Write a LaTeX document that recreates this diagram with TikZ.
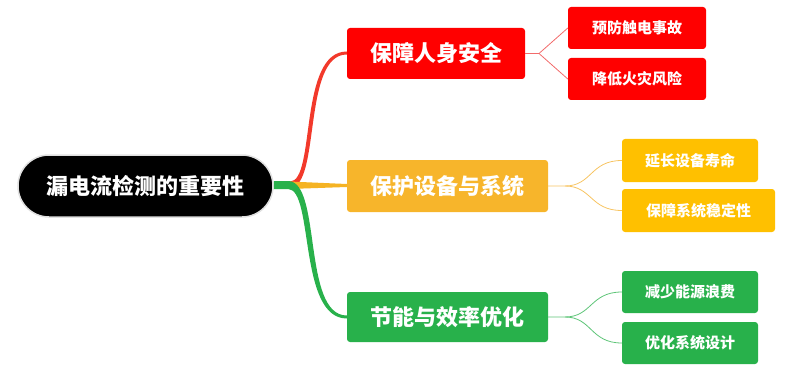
\documentclass[tikz,border=0pt]{standalone}
\usepackage{fontspec}
\newfontfamily\cjk{Noto Sans CJK SC}
\definecolor{cRed}{HTML}{FF0000}
\definecolor{cRedLine}{HTML}{F2392B}
\definecolor{cRedThin}{HTML}{F26B6B}
\definecolor{cYelMain}{HTML}{F7B52B}
\definecolor{cYelSub}{HTML}{FFC000}
\definecolor{cYelLine}{HTML}{F5B323}
\definecolor{cYelThin}{HTML}{F7C462}
\definecolor{cGreen}{HTML}{28B14B}
\definecolor{cGreenThin}{HTML}{5DC477}
\tikzset{
  rootbox/.style={fill=black, draw=black!12, line width=1.5pt, rounded corners=31pt,
    minimum width=255pt, minimum height=62pt, inner sep=0pt, text=white,
    font=\cjk\bfseries\fontsize{22pt}{22pt}\selectfont},
  mainbox/.style={rounded corners=3pt, inner sep=0pt, text=white,
    font=\cjk\bfseries\fontsize{22pt}{22pt}\selectfont},
  subbox/.style={rounded corners=3pt, inner sep=0pt, text=white,
    minimum height=42pt, font=\cjk\bfseries\fontsize{15pt}{15pt}\selectfont},
  thin/.style={line width=0.8pt}
}
\begin{document}
\begin{tikzpicture}[x=1pt,y=-1pt]
\useasboundingbox (0,0) rectangle (800,377);
% nodes
\node[rootbox] (root) at (145.5,186) {漏电流检测的重要性};
\node[mainbox, fill=cRed, minimum width=178pt, minimum height=51pt] (m1) at (436,53.5) {保障人身安全};
\node[mainbox, fill=cYelMain, minimum width=201pt, minimum height=52pt] (m2) at (447.5,186) {保护设备与系统};
\node[mainbox, fill=cGreen, minimum width=201pt, minimum height=50pt] (m3) at (447.5,317) {节能与效率优化};
\node[subbox, fill=cRed, minimum width=138pt] (s11) at (637,28) {预防触电事故};
\node[subbox, fill=cRed, minimum width=138pt] (s12) at (637,79) {降低火灾风险};
\node[subbox, fill=cYelSub, minimum width=136pt, minimum height=43pt] (s21) at (690,160.5) {延长设备寿命};
\node[subbox, fill=cYelSub, minimum width=153pt, minimum height=43pt] (s22) at (698.5,210.5) {保障系统稳定性};
\node[subbox, fill=cGreen, minimum width=136pt] (s31) at (690,292) {减少能源浪费};
\node[subbox, fill=cGreen, minimum width=136pt] (s32) at (690,343) {优化系统设计};
% main branches (tapered)
\coordinate (j) at (290,185);
\fill[cRedLine] (290,181.5) .. controls (316,181.5) and (298,51.5) .. (m1.west |- 0,51.5)
  -- (m1.west |- 0,54.5) .. controls (302,54.5) and (321,187.5) .. (290,187.5) -- cycle;
\fill[cYelLine] (289,181.5) -- (m2.west |- 0,184) -- (m2.west |- 0,187) -- (289,189) -- cycle;
\fill[cGreen] (root.east |- 0,181) -- (288,181) .. controls (322,181) and (302,315.5) .. (m3.west |- 0,315.5)
  -- (m3.west |- 0,318.5) .. controls (298,318.5) and (314,189) .. (288,189) -- (root.east |- 0,189) -- cycle;
% sub branches
\coordinate (f1) at (539,53.5);
\draw[cRedThin, thin] (m1.east) -- (f1) -- (s11.west);
\draw[cRedThin, thin] (f1) -- (s12.west);
\coordinate (f2) at (565,186);
\draw[cYelThin, thin] (m2.east) -- (f2) .. controls (592,186) and (590,160.5) .. (s21.west);
\draw[cYelThin, thin] (f2) .. controls (592,186) and (590,210.5) .. (s22.west);
\coordinate (f3) at (565,317);
\draw[cGreenThin, thin] (m3.east) -- (f3) .. controls (592,317) and (590,292) .. (s31.west);
\draw[cGreenThin, thin] (f3) .. controls (592,317) and (590,343) .. (s32.west);
\end{tikzpicture}
\end{document}
